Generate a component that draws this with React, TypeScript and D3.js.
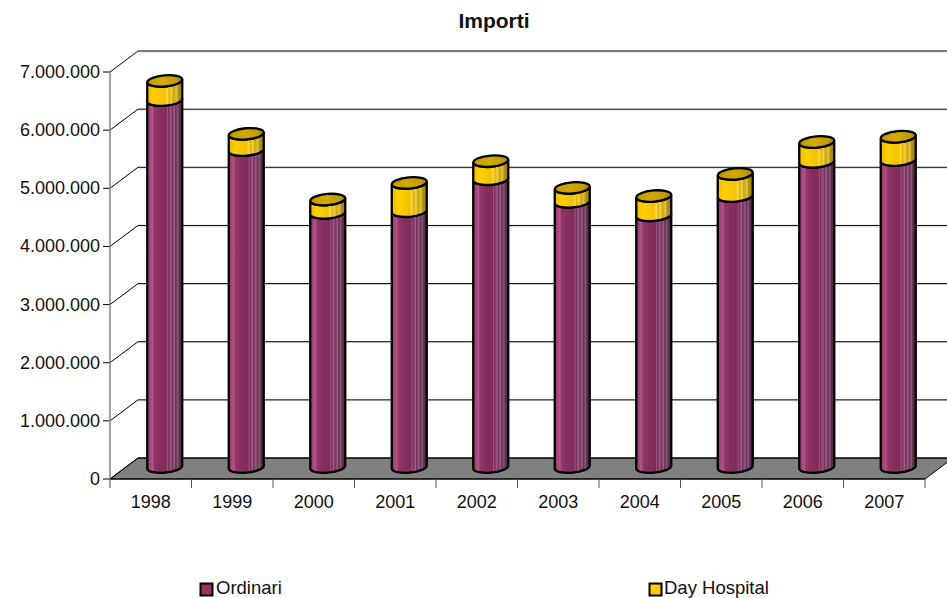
import * as d3 from 'd3'

const years = ['1998', '1999', '2000', '2001', '2002', '2003', '2004', '2005', '2006', '2007']
// values
const ordinari = [6310000, 5450000, 4370000, 4400000, 4950000, 4560000, 4330000, 4660000, 5250000, 5280000]
const dayHospital = [330000, 280000, 230000, 485000, 310000, 240000, 330000, 380000, 340000, 400000]
const yTicks = [0, 1000000, 2000000, 3000000, 4000000, 5000000, 6000000, 7000000]

const FONT = '"Liberation Sans", Arial, sans-serif'
const W = 947
const H = 598
// depth of the fake 3d box
const DEPTH_X = 28
const DEPTH_Y = 21
const BAR_DX = 14
const BAR_DY = 12
const BAR_W = 35
const RY = 5.6
const TILT = 5 // degrees, the ellipses lean up to the right

const fmt = (v: number) => d3.format(',')(v).replace(/,/g, '.')

const x = d3.scaleBand<string>().domain(years).range([110, 925])
const y = d3.scaleLinear().domain([0, 7000000]).range([479, 72])

const maroonStops: [number, string][] = [
  [0, '#8a3866'], [0.08, '#a5467a'], [0.15, '#b2558a'], [0.19, '#93386a'], [0.35, '#862f5e'], [0.55, '#802d5a'],
  [0.58, '#9c5480'], [0.61, '#7c2d58'], [0.68, '#a05f88'], [0.71, '#762e58'], [0.78, '#98608a'], [0.81, '#6e2f54'],
  [0.88, '#86587a'], [0.91, '#622e4e'], [1, '#522a44'],
]
const yellowStops: [number, string][] = [
  [0, '#eebc00'], [0.2, '#ffcf00'], [0.5, '#f2c200'], [0.58, '#f8d648'], [0.62, '#e2b400'], [0.7, '#f0d050'],
  [0.74, '#cea600'], [0.84, '#dcc04c'], [0.88, '#b49208'], [1, '#95800e'],
]
const lidStops: [number, string][] = [
  [0, '#c09a00'], [0.45, '#d2aa00'], [0.8, '#c09c08'], [1, '#a08a10'],
]

function cylinderPath(cx: number, yTop: number, yBottom: number) {
  const rx = BAR_W / 2
  const lean = (rx * Math.tan((TILT * Math.PI) / 180))
  const ell = (sweep: number, xTo: number, yTo: number) => `A${rx},${RY} ${-TILT} 0 ${sweep} ${xTo},${yTo}`
  return `M${cx - rx},${yTop + lean} L${cx - rx},${yBottom + lean} ${ell(0, cx + rx, yBottom - lean)} L${cx + rx},${yTop - lean} ${ell(1, cx - rx, yTop + lean)} Z`
}

function Gradient({ id, stops }: { id: string; stops: [number, string][] }) {
  return (
    <linearGradient id={id} x1="0" x2="1" y1="0" y2="0">
      {stops.map(([o, c]) => <stop key={o} offset={o} stopColor={c} />)}
    </linearGradient>
  )
}

export default function App() {
  const bw = x.bandwidth()
  const floorY = y(0)
  const xRight = x.range()[1]
  const xLeft = x.range()[0]

  return (
    <svg width={W} height={H} style={{ position: 'absolute', left: 0, top: 0 }} fontFamily={FONT} fill="#111">
      <defs>
        <Gradient id="maroon" stops={maroonStops} />
        <Gradient id="yellow" stops={yellowStops} />
        <Gradient id="lid" stops={lidStops} />
      </defs>
      <rect width={W} height={H} fill="#fff" />

      <text x={494} y={28} textAnchor="middle" fontSize={21} fontWeight="bold">Importi</text>

      {/* floor */}
      <path
        d={`M${xLeft},${floorY} L${xLeft + DEPTH_X},${floorY - DEPTH_Y} L${xRight + DEPTH_X},${floorY - DEPTH_Y} L${xRight},${floorY} Z`}
        fill="#808080"
        stroke="#000"
        strokeWidth={1}
      />

      {/* wall gridlines */}
      {yTicks.map(t => (
        <g key={t}>
          {t > 0 && (
            <line x1={xLeft + DEPTH_X} x2={xRight + DEPTH_X} y1={y(t) - DEPTH_Y + 1} y2={y(t) - DEPTH_Y + 1} stroke="#dcdcdc" />
          )}
          <path
            d={`M${xLeft},${y(t)} L${xLeft + DEPTH_X},${y(t) - DEPTH_Y} L${xRight + DEPTH_X},${y(t) - DEPTH_Y}`}
            fill="none"
            stroke="#000"
            strokeWidth={1}
          />
          <line x1={xLeft - 7} x2={xLeft} y1={y(t)} y2={y(t)} stroke="#000" />
          <text x={100} y={y(t) + 6} textAnchor="end" fontSize={18}>{fmt(t)}</text>
        </g>
      ))}

      {/* left axis */}
      <line x1={xLeft} x2={xLeft} y1={y(7000000)} y2={floorY + 9} stroke="#808080" strokeWidth={1.5} />

      {/* x axis */}
      <line x1={xLeft} x2={xRight} y1={floorY} y2={floorY} stroke="#000" />
      {years.map(yr => (
        <g key={yr}>
          <line x1={(x(yr) as number) + bw} x2={(x(yr) as number) + bw} y1={floorY} y2={floorY + 9} stroke="#555" />
          <text x={(x(yr) as number) + bw / 2} y={508} textAnchor="middle" fontSize={18}>{yr}</text>
        </g>
      ))}

      {/* bars */}
      {years.map((yr, i) => {
        const cx = (x(yr) as number) + bw / 2 + BAR_DX
        const base = y(0) - BAR_DY
        const yOrd = y(ordinari[i]) - BAR_DY
        const yTot = y(ordinari[i] + dayHospital[i]) - BAR_DY
        return (
          <g key={yr} stroke="#000" strokeWidth={2.3}>
            <path d={cylinderPath(cx, yOrd, base)} fill="url(#maroon)" />
            <path d={cylinderPath(cx, yTot, yOrd)} fill="url(#yellow)" />
            <ellipse cx={cx} cy={yTot} rx={BAR_W / 2} ry={RY} fill="url(#lid)" transform={`rotate(${-TILT} ${cx} ${yTot})`} />
          </g>
        )
      })}

      {/* legend */}
      <rect x={200.5} y={583.5} width={12} height={12} fill="#993366" stroke="#000" strokeWidth={2} />
      <text x={216} y={594} fontSize={18.5}>Ordinari</text>
      <rect x={649.5} y={583.5} width={12} height={12} fill="#ffcc00" stroke="#000" strokeWidth={2} />
      <text x={664} y={594} fontSize={18.5}>Day Hospital</text>
    </svg>
  )
}
